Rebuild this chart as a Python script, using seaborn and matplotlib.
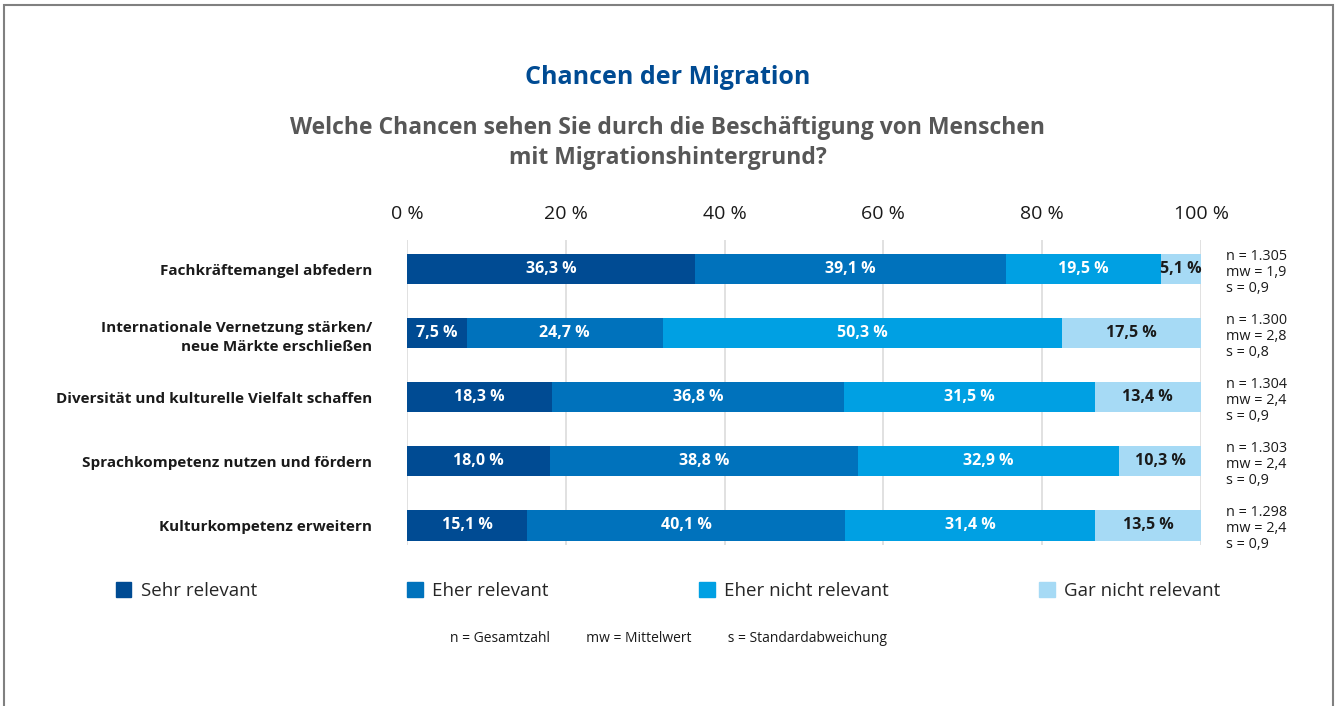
import numpy as np
import pandas as pd
import matplotlib.pyplot as plt
import matplotlib.patches as mpatches
import seaborn as sns

# Data
categories = [
    "Fachkräftemangel abfedern",
    "Internationale Vernetzung stärken/\nneue Märkte erschließen",
    "Diversität und kulturelle Vielfalt schaffen",
    "Sprachkompetenz nutzen und fördern",
    "Kulturkompetenz erweitern",
]
series_names = ["Sehr relevant", "Eher relevant", "Eher nicht relevant", "Gar nicht relevant"]
sehr_relevant = [36.3, 7.5, 18.3, 18.0, 15.1]
eher_relevant = [39.1, 24.7, 36.8, 38.8, 40.1]
eher_nicht_relevant = [19.5, 50.3, 31.5, 32.9, 31.4]
gar_nicht_relevant = [5.1, 17.5, 13.4, 10.3, 13.5]
n_values = ["1.305", "1.300", "1.304", "1.303", "1.298"]
mw_values = ["1,9", "2,8", "2,4", "2,4", "2,4"]
s_values = ["0,9", "0,8", "0,9", "0,9", "0,9"]
tick_values = [0, 20, 40, 60, 80, 100]

colors = ["#004b93", "#0072bc", "#00a0e3", "#a6daf5"]
text_colors = ["white", "white", "white", "#1a1a1a"]

sns.set_style("white")
plt.rcParams['font.family'] = ['Open Sans', 'DejaVu Sans']

df = pd.DataFrame({
    "Kategorie": categories,
    series_names[0]: sehr_relevant,
    series_names[1]: eher_relevant,
    series_names[2]: eher_nicht_relevant,
    series_names[3]: gar_nicht_relevant,
})
values = df[series_names].to_numpy()
cum = values.cumsum(axis=1)

fig = plt.figure(figsize=(13.36, 7.06), dpi=100)
ax = fig.add_axes([407 / 1336, 1 - 545 / 706, 794 / 1336, 305 / 706])

# stacked bars: draw cumulative totals from the outermost segment inwards
for i in range(len(series_names) - 1, -1, -1):
    sns.barplot(x=cum[:, i], y=df["Kategorie"], orient="h", color=colors[i],
                width=0.48, saturation=1, ax=ax, zorder=2, edgecolor="none")

# segment labels
for r in range(len(categories)):
    for i in range(len(series_names)):
        start = cum[r, i] - values[r, i]
        mid = start + values[r, i] / 2
        label = f"{values[r, i]:.1f} %".replace(".", ",")
        ax.text(mid, r, label, ha="center", va="center", color=text_colors[i],
                fontsize=11.5, fontweight="bold", zorder=3)

ax.set_xlim(0, 100)
ax.set_ylim(len(categories) - 1 + 0.31, -0.453)
ax.set_xticks(tick_values)
ax.set_xticklabels([f"{t} %" for t in tick_values], fontsize=14, color="#1a1a1a")
ax.xaxis.tick_top()
ax.tick_params(axis="x", length=0, pad=12)
ax.tick_params(axis="y", length=0, pad=25)
ax.set_yticks(range(len(categories)))
ax.set_yticklabels(categories, fontsize=11, fontweight="bold", color="#1a1a1a",
                   linespacing=1.5)
ax.set_xlabel("")
ax.set_ylabel("")
for sp in ax.spines.values():
    sp.set_visible(False)
ax.grid(axis="x", color="#dcdcdc", linewidth=1.2, zorder=0)
ax.set_axisbelow(True)

# statistics to the right of each bar
for r in range(len(categories)):
    ax.text(103.1, r + 0.05, f"n = {n_values[r]}\nmw = {mw_values[r]}\ns = {s_values[r]}",
            ha="left", va="center", fontsize=10.4, color="#1a1a1a",
            linespacing=1.1, clip_on=False)

# titles
fig.text(668 / 1336, 1 - 77 / 706, "Chancen der Migration", ha="center", va="center",
         fontsize=18, fontweight="bold", color="#004b93")
fig.text(668 / 1336, 1 - 143 / 706,
         "Welche Chancen sehen Sie durch die Beschäftigung von Menschen\nmit Migrationshintergrund?",
         ha="center", va="center", fontsize=16.5, fontweight="bold", color="#575757",
         linespacing=1.35)

# legend
handles = [mpatches.Patch(color=c, label=l) for c, l in zip(colors, series_names)]
fig.legend(handles=handles, loc="center", bbox_to_anchor=(668 / 1336, 1 - 591 / 706),
           ncol=4, frameon=False, fontsize=13.5, handlelength=0.85, handleheight=0.85,
           handletextpad=0.5, columnspacing=8.0)

fig.text(668 / 1336, 1 - 639 / 706,
         "n = Gesamtzahl          mw = Mittelwert          s = Standardabweichung",
         ha="center", va="center", fontsize=10, color="#1a1a1a")

# outer frame (open at the bottom)
frame = mpatches.Rectangle((4 / 1336, -0.2), 1329 / 1336, 1.2 - 5 / 706,
                           transform=fig.transFigure, fill=False,
                           edgecolor="#808080", linewidth=1.5, clip_on=False)
fig.patches.append(frame)

fig.savefig("out.png", dpi=100)
